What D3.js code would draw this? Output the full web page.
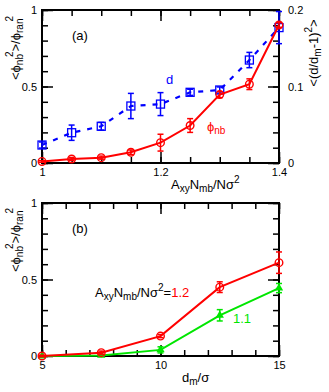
<!DOCTYPE html>
<html>
<head>
<meta charset="utf-8">
<script src="https://cdn.jsdelivr.net/npm/d3@7"></script>
<style>
  body { margin: 0; background: #fff; }
  text { font-family: "Liberation Sans", Arial, sans-serif; }
</style>
</head>
<body>
<div id="chart"></div>
<script>
// panel (a)
let xA = [1, 1.05, 1.1, 1.15, 1.2, 1.25, 1.3, 1.35, 1.4]
let phiA = [0.01, 0.026, 0.035, 0.07, 0.133, 0.245, 0.447, 0.515, 0.902]
let phiErrA = [0.005, 0.01, 0.01, 0.015, 0.055, 0.045, 0.02, 0.035, 0.015]
let dA = [0.0235, 0.0396, 0.048, 0.0745, 0.077, 0.0924, 0.0954, 0.1346, 0.177]
let dErrA = [0.004, 0.01, 0.005, 0.0165, 0.015, 0.004, 0.004, 0.01, 0.021]

// panel (b)
let xB = [5, 7.5, 10, 12.5, 15]
let phi12 = [0.0, 0.022, 0.13, 0.45, 0.61]
let phi12Err = [0.005, 0.01, 0.01, 0.035, 0.07]
let phi11 = [0.0, 0.004, 0.04, 0.266, 0.444]
let phi11Err = [0.003, 0.005, 0.02, 0.037, 0.03]

let xTicksA = [1, 1.2, 1.4]
let yTicksL = [0, 0.5, 1]
let yTicksR = [0, 0.1, 0.2]
let xTicksB = [5, 10, 15]

let RED = '#ff0000', BLUE = '#0000ff', GREEN = '#00e600'

let svg = d3.select('#chart').append('svg')
    .attr('width', 329)
    .attr('height', 392)

let left = 42, right = 279

function frame(g, xs, ys, majorX, minorX) {
  let minorY = d3.range(0, 1.0001, 0.1)
  // minor ticks, all four sides
  g.append('g').attr('transform', `translate(0,${ys.range()[0]})`)
    .call(d3.axisBottom(xs).tickValues(minorX).tickSize(-6).tickFormat(''))
  g.append('g').attr('transform', `translate(0,${ys.range()[1]})`)
    .call(d3.axisTop(xs).tickValues(minorX).tickSize(-6).tickFormat(''))
  g.append('g').attr('transform', `translate(0,${ys.range()[1]})`)
    .call(d3.axisTop(xs).tickValues(majorX).tickSize(-11).tickFormat(''))
  g.append('g').attr('transform', `translate(${left},0)`)
    .call(d3.axisLeft(ys).tickValues(minorY).tickSize(-6).tickFormat(''))
  g.append('g').attr('transform', `translate(${right},0)`)
    .call(d3.axisRight(ys).tickValues(minorY).tickSize(-6).tickFormat(''))
  g.append('g').attr('transform', `translate(${right},0)`)
    .call(d3.axisRight(ys).tickValues(yTicksL).tickSize(-11).tickFormat(''))
  // labelled axes
  g.append('g').attr('transform', `translate(0,${ys.range()[0]})`)
    .call(d3.axisBottom(xs).tickValues(majorX).tickSize(-11).tickPadding(5).tickFormat(d3.format('')))
  g.append('g').attr('transform', `translate(${left},0)`)
    .call(d3.axisLeft(ys).tickValues(yTicksL).tickSize(-11).tickPadding(5).tickFormat(d3.format('')))
  g.selectAll('.domain').remove()
  g.selectAll('.tick line').attr('stroke', '#000').attr('stroke-width', 1.5)
  g.selectAll('.tick text').attr('font-size', 11).attr('fill', '#000')
    .style('font-family', '"Liberation Sans", Arial, sans-serif')
  g.append('rect')
    .attr('x', left).attr('y', ys.range()[1])
    .attr('width', right - left).attr('height', ys.range()[0] - ys.range()[1])
    .attr('fill', 'none').attr('stroke', '#000').attr('stroke-width', 2)
}

function errbars(g, xs, ys, xv, yv, ev, color) {
  xv.forEach((x, i) => {
    let px = xs(x), top = ys(yv[i] + ev[i]), bot = ys(yv[i] - ev[i])
    g.append('line').attr('x1', px).attr('x2', px).attr('y1', top).attr('y2', bot)
      .attr('stroke', color).attr('stroke-width', 1.5)
    ;[top, bot].forEach(yy => {
      g.append('line').attr('x1', px - 3).attr('x2', px + 3).attr('y1', yy).attr('y2', yy)
        .attr('stroke', color).attr('stroke-width', 1.5)
    })
  })
}

function yLabelLeft(g, cy) {
  let t = g.append('text')
    .attr('transform', `translate(20,${cy}) rotate(-90)`)
    .attr('text-anchor', 'middle').attr('font-size', 13)
  t.append('tspan').text('<ϕ')
  t.append('tspan').attr('font-size', 10).attr('dy', 3).text('nb')
  t.append('tspan').attr('font-size', 10).attr('dx', -3).attr('dy', -10).text('2')
  t.append('tspan').attr('dy', 7).text('>/ϕ')
  t.append('tspan').attr('font-size', 10).attr('dy', 3).text('ran')
  t.append('tspan').attr('font-size', 10).attr('dx', -3).attr('dy', -10).text('2')
}

// ---------- panel (a) ----------
let ga = svg.append('g')
let xsA = d3.scaleLinear().domain([1, 1.4]).range([left, right])
let ysA = d3.scaleLinear().domain([0, 1]).range([163, 10])
let ysAR = d3.scaleLinear().domain([0, 0.2]).range([163, 10])

frame(ga, xsA, ysA, xTicksA, d3.range(1, 1.4001, 0.05))

ga.append('g').attr('transform', `translate(${right},0)`)
  .call(d3.axisRight(ysAR).tickValues(yTicksR).tickSize(0).tickPadding(9).tickFormat(d3.format('')))
  .call(g => g.select('.domain').remove())
  .call(g => g.selectAll('text').attr('font-size', 11).attr('fill', '#000')
    .style('font-family', '"Liberation Sans", Arial, sans-serif'))

// d series (blue, dashed)
let lineD = d3.line().x((d, i) => xsA(xA[i])).y(d => ysAR(d))
ga.append('path').datum(dA).attr('d', lineD)
  .attr('fill', 'none').attr('stroke', BLUE).attr('stroke-width', 2.2)
  .attr('stroke-dasharray', '5,7')
errbars(ga, xsA, ysAR, xA, dA, dErrA, BLUE)
ga.selectAll('.sq').data(dA).enter().append('rect')
  .attr('x', (d, i) => xsA(xA[i]) - 4).attr('y', d => ysAR(d) - 4)
  .attr('width', 8).attr('height', 8)
  .attr('fill', 'none').attr('stroke', BLUE).attr('stroke-width', 1.3)

// phi series (red, solid)
let lineP = d3.line().x((d, i) => xsA(xA[i])).y(d => ysA(d))
ga.append('path').datum(phiA).attr('d', lineP)
  .attr('fill', 'none').attr('stroke', RED).attr('stroke-width', 2)
errbars(ga, xsA, ysA, xA, phiA, phiErrA, RED)
ga.selectAll('.ci').data(phiA).enter().append('circle')
  .attr('cx', (d, i) => xsA(xA[i])).attr('cy', d => ysA(d)).attr('r', 3.8)
  .attr('fill', 'none').attr('stroke', RED).attr('stroke-width', 1.4)

ga.append('text').attr('x', 72).attr('y', 40).attr('font-size', 13).text('(a)')
ga.append('text').attr('x', 166).attr('y', 84).attr('font-size', 13).attr('fill', BLUE).text('d')
let tp = ga.append('text').attr('x', 207).attr('y', 131).attr('font-size', 13).attr('fill', RED)
tp.append('tspan').text('ϕ')
tp.append('tspan').attr('font-size', 10).attr('dy', 3).text('nb')

let xlA = ga.append('text').attr('x', 171).attr('y', 189).attr('font-size', 13)
xlA.append('tspan').text('A')
xlA.append('tspan').attr('font-size', 10).attr('dy', 3).text('xy')
xlA.append('tspan').attr('dy', -3).text('N')
xlA.append('tspan').attr('font-size', 10).attr('dy', 3).text('mb')
xlA.append('tspan').attr('dy', -3).text('/Nσ')
xlA.append('tspan').attr('font-size', 10).attr('dy', -6).text('2')

yLabelLeft(ga, 48)

let yr = ga.append('text')
  .attr('transform', `translate(318,53) rotate(-90)`)
  .attr('text-anchor', 'middle').attr('font-size', 13)
yr.append('tspan').text('<(d/d')
yr.append('tspan').attr('font-size', 10).attr('dy', 3).text('m')
yr.append('tspan').attr('dy', -3).text('-1)')
yr.append('tspan').attr('font-size', 10).attr('dy', -6).text('2')
yr.append('tspan').attr('dy', 6).text('>')

// ---------- panel (b) ----------
let gb = svg.append('g')
let xsB = d3.scaleLinear().domain([5, 15]).range([left, right])
let ysB = d3.scaleLinear().domain([0, 1]).range([356, 203])

frame(gb, xsB, ysB, xTicksB, d3.range(5, 15.001, 1))

let lineB = d3.line().x((d, i) => xsB(xB[i])).y(d => ysB(d))
gb.append('path').datum(phi11).attr('d', lineB)
  .attr('fill', 'none').attr('stroke', GREEN).attr('stroke-width', 2)
errbars(gb, xsB, ysB, xB, phi11, phi11Err, GREEN)
gb.selectAll('.tr').data(phi11).enter().append('path')
  .attr('transform', (d, i) => `translate(${xsB(xB[i])},${ysB(d)})`)
  .attr('d', d3.symbol().type(d3.symbolTriangle).size(30))
  .attr('fill', GREEN)

gb.append('path').datum(phi12).attr('d', lineB)
  .attr('fill', 'none').attr('stroke', RED).attr('stroke-width', 2)
errbars(gb, xsB, ysB, xB, phi12, phi12Err, RED)
gb.selectAll('.ci').data(phi12).enter().append('circle')
  .attr('cx', (d, i) => xsB(xB[i])).attr('cy', d => ysB(d)).attr('r', 3.8)
  .attr('fill', 'none').attr('stroke', RED).attr('stroke-width', 1.4)

gb.append('text').attr('x', 72).attr('y', 233).attr('font-size', 13).text('(b)')

let an = gb.append('text').attr('x', 95).attr('y', 297).attr('font-size', 13)
an.append('tspan').text('A')
an.append('tspan').attr('font-size', 10).attr('dy', 3).text('xy')
an.append('tspan').attr('dy', -3).text('N')
an.append('tspan').attr('font-size', 10).attr('dy', 3).text('mb')
an.append('tspan').attr('dy', -3).text('/Nσ')
an.append('tspan').attr('font-size', 10).attr('dy', -6).text('2')
an.append('tspan').attr('dy', 6).text('=')
an.append('tspan').attr('fill', RED).text('1.2')
gb.append('text').attr('x', 233).attr('y', 323).attr('font-size', 13).attr('fill', GREEN).text('1.1')

let xlB = gb.append('text').attr('x', 182).attr('y', 382).attr('font-size', 13)
xlB.append('tspan').text('d')
xlB.append('tspan').attr('font-size', 10).attr('dy', 3).text('m')
xlB.append('tspan').attr('dy', -3).text('/σ')

yLabelLeft(gb, 240)
</script>
</body>
</html>
